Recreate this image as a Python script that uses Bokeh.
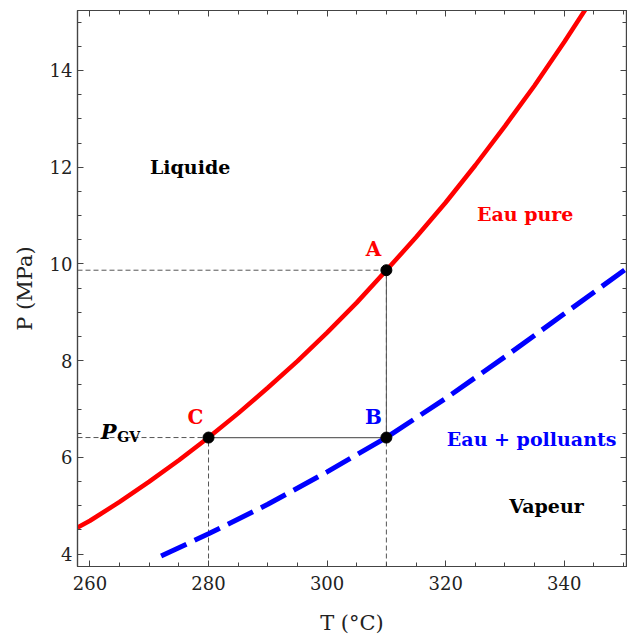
from bokeh.plotting import figure
from bokeh.models import LinearAxis, SingleIntervalTicker, Range1d, ColumnDataSource, CustomJSTickFormatter
from bokeh.core.properties import value
from bokeh.embed import file_html
from bokeh.resources import INLINE

# Saturation curve, pure water (T in °C, P in MPa)
T_pure = [257.9, 260, 265, 270, 275, 280, 285, 290, 295, 300, 305, 310,
          315, 320, 325, 330, 335, 340, 345]
P_pure = [4.55, 4.69, 5.08, 5.50, 5.94, 6.41, 6.91, 7.44, 7.99, 8.58, 9.20, 9.87,
          10.55, 11.27, 12.04, 12.85, 13.69, 14.59, 15.53]

# Water + pollutants
T_poll = [272, 280, 290, 300, 310, 320, 330, 340, 350, 351]
P_poll = [3.96, 4.42, 5.03, 5.70, 6.41, 7.22, 8.08, 8.97, 9.86, 9.95]

# Points A, B, C
pt_names = ["A", "B", "C"]
pt_T = [310, 310, 280]
pt_P = [9.87, 6.41, 6.41]
pt_colors = ["#ff0000", "#0000ff", "#ff0000"]

T_min, T_max = 257.9, 350.5
P_min, P_max = 3.744, 15.24

FONT = "DejaVu Serif"

p = figure(width=627, height=637, output_backend="svg", toolbar_location=None,
           x_range=Range1d(T_min, T_max), y_range=Range1d(P_min, P_max),
           x_axis_location=None, y_axis_location=None,
           min_border_left=77, min_border_right=1, min_border_top=10,
           min_border_bottom=69)
p.grid.visible = False
p.outline_line_color = "#444444"
p.outline_line_width = 1.2
p.background_fill_color = "white"
p.border_fill_color = "white"

def make_axis(cls_kwargs, interval, labels=True):
    ax = LinearAxis(ticker=SingleIntervalTicker(interval=interval, num_minor_ticks=4),
                    **cls_kwargs)
    ax.axis_line_color = "#444444"
    ax.axis_line_width = 1.2
    ax.major_tick_in = 6
    ax.major_tick_out = 0
    ax.minor_tick_in = 4
    ax.minor_tick_out = 0
    ax.major_tick_line_color = "#444444"
    ax.minor_tick_line_color = "#444444"
    ax.major_label_text_font = FONT
    ax.major_label_text_font_size = "18px"
    ax.major_label_text_color = "#222222"
    ax.axis_label_text_font = FONT
    ax.axis_label_text_font_size = "21px"
    ax.axis_label_text_font_style = "normal"
    ax.axis_label_text_color = "#222222"
    if not labels:
        ax.formatter = CustomJSTickFormatter(code="return ''")
        ax.major_label_standoff = 0
    return ax

xb = make_axis(dict(axis_label="T (°C)"), 20)
xb.major_label_standoff = 9
xb.axis_label_standoff = 18
p.add_layout(xb, "below")
yl = make_axis(dict(axis_label="P (MPa)"), 2)
yl.major_label_standoff = 5
yl.axis_label_standoff = 10
p.add_layout(yl, "left")
xt = make_axis({}, 20, labels=False)
p.add_layout(xt, "above")
yr = make_axis({}, 2, labels=False)
p.add_layout(yr, "right")

# guide lines
guide = "#555555"
p.line([T_min, pt_T[0]], [pt_P[0], pt_P[0]], line_color=guide, line_width=1, line_dash="5 3")
p.line([pt_T[0], pt_T[0]], [P_min, pt_P[0]], line_color=guide, line_width=1, line_dash="5 3")
p.line([pt_T[0], pt_T[0]], [pt_P[1], pt_P[0]], line_color="#555555", line_width=1)
p.line([T_min, pt_T[2]], [pt_P[2], pt_P[2]], line_color=guide, line_width=1, line_dash="5 3")
p.line([pt_T[2], pt_T[2]], [P_min, pt_P[2]], line_color=guide, line_width=1, line_dash="5 3")
p.line([pt_T[2], pt_T[1]], [pt_P[2], pt_P[1]], line_color="#666666", line_width=1.2)

# curves
p.line(T_pure, P_pure, line_color="#ff0000", line_width=4.5)
p.line(T_poll, P_poll, line_color="#0000ff", line_width=5, line_dash="28 9")

# points
src = ColumnDataSource(dict(x=pt_T, y=pt_P, name=pt_names, color=pt_colors))
p.scatter("x", "y", source=src, size=11, color="black")
p.text("x", "y", text="name", source=src, text_color="color", x_offset=-13, y_offset=-21,
       text_font=value(FONT), text_font_style="bold", text_font_size="20px",
       text_align="center", text_baseline="middle")

# region labels
lab_text = ["Liquide", "Vapeur"]
lab_T = [276.9, 337.0]
lab_P = [12.0, 4.99]
p.text(lab_T, lab_P, text=lab_text, text_color="black", text_font=value(FONT),
       text_font_style="bold", text_font_size="19px", text_align="center",
       text_baseline="middle")
p.text([333.4], [11.03], text=["Eau pure"], text_color="#ff0000", text_font=value(FONT),
       text_font_style="bold", text_font_size="19px", text_align="center",
       text_baseline="middle")
p.text([334.5], [6.38], text=["Eau + polluants"], text_color="#0000ff", text_font=value(FONT),
       text_font_style="bold", text_font_size="19px", text_align="center",
       text_baseline="middle")

# P_GV label
p.text([264.5], [6.53], text=["P"], text_color="black", text_font=value(FONT),
       text_font_style="bold italic", text_font_size="21px", text_align="right",
       text_baseline="alphabetic")
p.text([264.6], [6.43], text=["GV"], text_color="black", text_font=value(FONT),
       text_font_style="bold", text_font_size="14px", text_align="left",
       text_baseline="alphabetic")

open("out.html", "w").write(file_html(p, INLINE))
